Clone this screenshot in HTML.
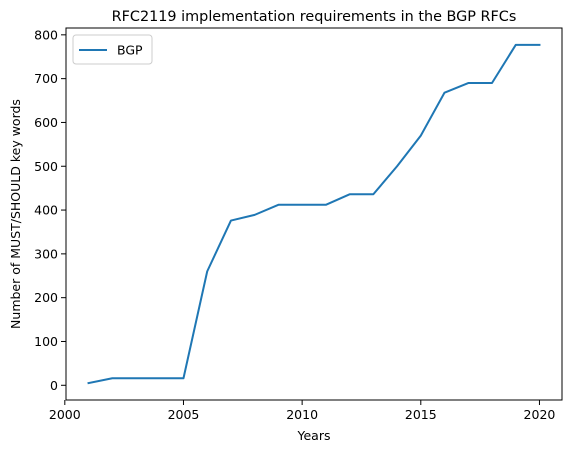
<!DOCTYPE html>
<html><head><meta charset="utf-8"><style>body{margin:0;background:#fff}svg{display:block;font-family:"DejaVu Sans","Liberation Sans",sans-serif}</style></head>
<body>
<svg id="chart" width="575" height="453"></svg>
<script>
const years=[2001,2002,2003,2004,2005,2006,2007,2008,2009,2010,2011,2012,2013,2014,2015,2016,2017,2018,2019,2020];
const counts=[5,16,16,16,16,260,376,389,412,412,412,436,436,500,570,668,690,690,777,777];
const xTicks=[2000,2005,2010,2015,2020];
const yTicks=[0,100,200,300,400,500,600,700,800];
const L=66,R=562,T=28,B=400;
const x0=2000.05,x1=2020.95,y0=-33.6,y1=815.6;
const sx=v=>L+(v-x0)/(x1-x0)*(R-L);
const sy=v=>B-(v-y0)/(y1-y0)*(B-T);
const svg=document.getElementById('chart');
const NS='http://www.w3.org/2000/svg';
function mk(t,a,p){const e=document.createElementNS(NS,t);for(const k in a)e.setAttribute(k,a[k]);(p||svg).appendChild(e);return e;}
let e;
e=mk('polyline',{points:years.map((y,i)=>sx(y)+','+sy(counts[i])).join(' '),fill:'none',stroke:'#1f77b4','stroke-width':2,'stroke-linejoin':'round','stroke-linecap':'square'});


e=mk('rect',{x:L,y:T,width:R-L,height:B-T,fill:'none',stroke:'#000','stroke-width':1});


xTicks.forEach(t=>{const X=sx(t);mk('line',{x1:X,x2:X,y1:B,y2:B+5,stroke:'#000','stroke-width':1});
e=mk('text',{x:X,y:B+19,'text-anchor':'middle','font-size':12.5});e.textContent=t;

});
yTicks.forEach(t=>{const Y=sy(t);mk('line',{x1:L-5,x2:L,y1:Y,y2:Y,stroke:'#000','stroke-width':1});
e=mk('text',{x:L-8,y:Y+4.5,'text-anchor':'end','font-size':12.5});e.textContent=t;

});
e=mk('text',{x:(L+R)/2,y:440,'text-anchor':'middle','font-size':12.5});e.textContent='Years';


e=mk('text',{x:0,y:0,'text-anchor':'middle','font-size':12.5,transform:'translate(20,'+(T+B)/2+') rotate(-90)'});e.textContent='Number of MUST/SHOULD key words';


e=mk('text',{x:(L+R)/2,y:21,'text-anchor':'middle','font-size':14.4});e.textContent='RFC2119 implementation requirements in the BGP RFCs';


const g=mk('g',{});


mk('rect',{x:73,y:35,width:79,height:29,rx:3,fill:'#fff',stroke:'#ccc'},g);
mk('line',{x1:79,x2:107,y1:50,y2:50,stroke:'#1f77b4','stroke-width':2},g);
e=mk('text',{x:117,y:54.5,'font-size':12.5},g);e.textContent='BGP';


</script>
</body></html>
